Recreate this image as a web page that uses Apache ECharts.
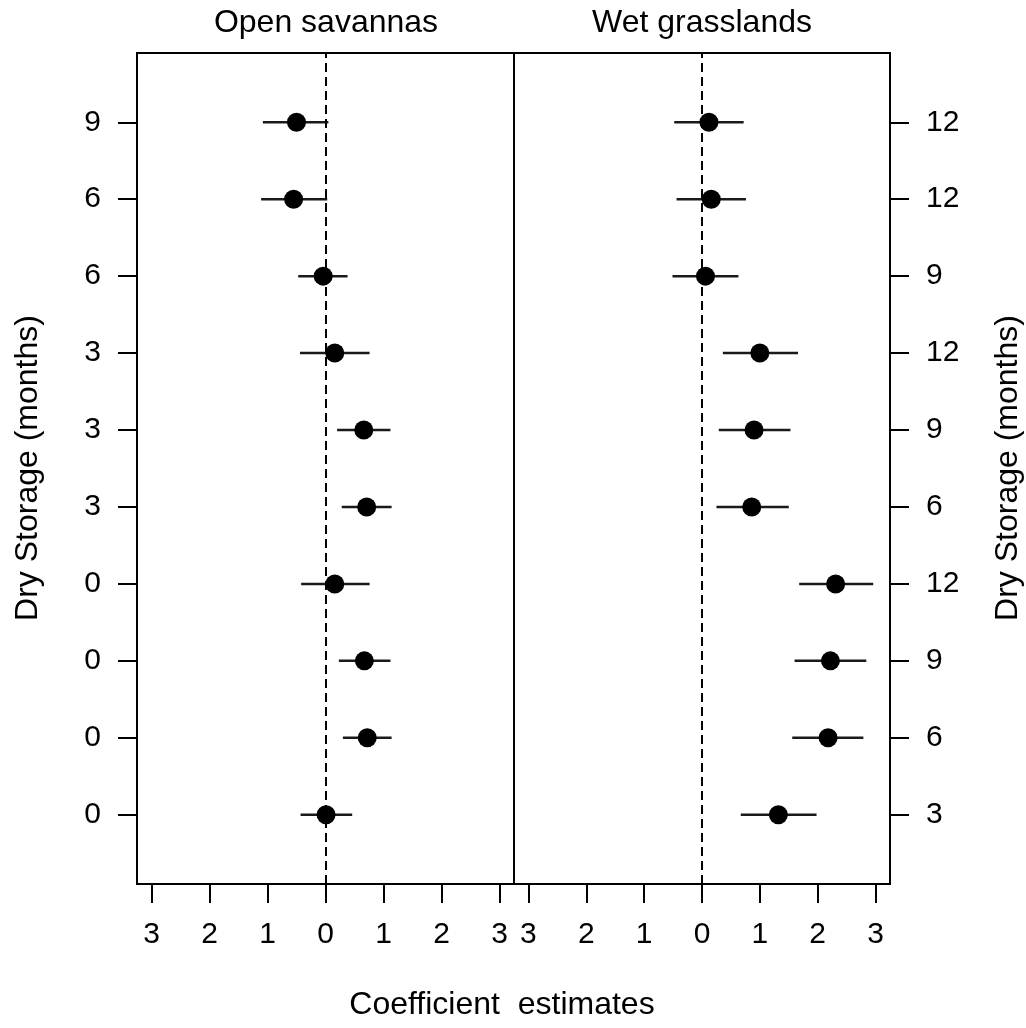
<!DOCTYPE html>
<html>
<head>
<meta charset="utf-8">
<script src="https://cdn.jsdelivr.net/npm/echarts@6/dist/echarts.min.js"></script>
<style>
  html, body { margin: 0; padding: 0; background: #fff; }
  #chart { width: 1026px; height: 1028px; }
</style>
</head>
<body>
<div id="chart"></div>
<script>
// Rows are listed top to bottom.
const panelTitles = ['Open savannas', 'Wet grasslands'];

const savannaLabels = ['9', '6', '6', '3', '3', '3', '0', '0', '0', '0'];
const savannaEst    = [-0.50, -0.55, -0.04, 0.16, 0.66, 0.71, 0.16, 0.67, 0.72, 0.01];
const savannaLow    = [-1.08, -1.11, -0.47, -0.44, 0.20, 0.28, -0.42, 0.23, 0.30, -0.43];
const savannaHigh   = [0.05, 0.03, 0.38, 0.76, 1.12, 1.14, 0.76, 1.12, 1.14, 0.46];

const grassLabels = ['12', '12', '9', '12', '9', '6', '12', '9', '6', '3'];
const grassEst    = [0.12, 0.16, 0.06, 1.00, 0.90, 0.86, 2.31, 2.22, 2.18, 1.32];
const grassLow    = [-0.48, -0.44, -0.51, 0.36, 0.29, 0.25, 1.68, 1.60, 1.56, 0.67];
const grassHigh   = [0.72, 0.76, 0.63, 1.66, 1.53, 1.50, 2.96, 2.84, 2.79, 1.98];

const xTicks = [-3, -2, -1, 0, 1, 2, 3];
const yAxisTitle = 'Dry Storage (months)';
const xAxisTitle = 'Coefficient  estimates';

const FONT = "'Liberation Sans', Arial, sans-serif";
const TICK_SIZE = 30;
const TITLE_FONT = '32px ' + FONT;
const n = savannaLabels.length;
const rows = savannaLabels.map((_, i) => n - i);   // 1 = bottom row

function labelFor(labels) {
  return v => {
    const i = n - Math.round(v);
    return labels[i] !== undefined ? labels[i] : '';
  };
}

function xAxisFor(gridIndex) {
  return {
    type: 'value', gridIndex, min: -3.25, max: 3.25,
    axisLine: { show: true, onZero: false, lineStyle: { color: '#000', width: 2 } },
    axisTick: { show: true, customValues: xTicks, length: 19, inside: false,
                lineStyle: { color: '#000', width: 2 } },
    axisLabel: { show: true, customValues: xTicks, margin: 36,
                 formatter: v => String(Math.abs(v)),
                 color: '#000', fontSize: TICK_SIZE, fontFamily: FONT },
    splitLine: { show: false }
  };
}

function yAxisFor(gridIndex, position, labels) {
  return {
    type: 'value', gridIndex, position, min: 0.1, max: 10.9,
    axisLine: { show: true, onZero: false, lineStyle: { color: '#000', width: 2 } },
    axisTick: { show: true, customValues: rows, length: 19, inside: false,
                lineStyle: { color: '#000', width: 2 } },
    axisLabel: { show: true, customValues: rows, margin: 36,
                 formatter: labelFor(labels),
                 color: '#000', fontSize: TICK_SIZE, fontFamily: FONT },
    splitLine: { show: false }
  };
}

function errorBars(idx, low, high) {
  return {
    type: 'custom', xAxisIndex: idx, yAxisIndex: idx,
    data: low.map((lo, i) => [lo, high[i], rows[i]]),
    encode: { x: [0, 1], y: 2 },
    silent: true,
    renderItem: (params, api) => {
      const a = api.coord([api.value(0), api.value(2)]);
      const b = api.coord([api.value(1), api.value(2)]);
      return {
        type: 'line',
        shape: { x1: a[0], y1: a[1], x2: b[0], y2: b[1] },
        style: { stroke: '#1a1a1a', lineWidth: 2.5 }
      };
    }
  };
}

function points(idx, est) {
  return {
    type: 'scatter', xAxisIndex: idx, yAxisIndex: idx,
    data: est.map((v, i) => [v, rows[i]]),
    symbol: 'circle', symbolSize: 19,
    itemStyle: { color: '#000', opacity: 1 },
    silent: true,
    z: 3,
    markLine: {
      silent: true, symbol: 'none',
      label: { show: false },
      lineStyle: { color: '#000', width: 2, type: [9, 5] },
      data: [{ xAxis: 0 }]
    }
  };
}

const chart = echarts.init(document.getElementById('chart'), null, { renderer: 'canvas' });

chart.setOption({
  backgroundColor: '#fff',
  animation: false,
  grid: [
    { left: 137, top: 53, width: 377, height: 831, show: true,
      borderColor: '#000', borderWidth: 2, backgroundColor: 'transparent' },
    { left: 514, top: 53, width: 376, height: 831, show: true,
      borderColor: '#000', borderWidth: 2, backgroundColor: 'transparent' }
  ],
  xAxis: [xAxisFor(0), xAxisFor(1)],
  yAxis: [yAxisFor(0, 'left', savannaLabels), yAxisFor(1, 'right', grassLabels)],
  series: [
    errorBars(0, savannaLow, savannaHigh),
    points(0, savannaEst),
    errorBars(1, grassLow, grassHigh),
    points(1, grassEst)
  ],
  graphic: [
    { type: 'text', x: 326, y: 23, style: { text: panelTitles[0], font: TITLE_FONT,
      fill: '#000', textAlign: 'center', textVerticalAlign: 'middle' } },
    { type: 'text', x: 702, y: 23, style: { text: panelTitles[1], font: TITLE_FONT,
      fill: '#000', textAlign: 'center', textVerticalAlign: 'middle' } },
    { type: 'text', x: 502, y: 1005, style: { text: xAxisTitle, font: TITLE_FONT,
      fill: '#000', textAlign: 'center', textVerticalAlign: 'middle' } },
    { type: 'text', x: 28, y: 468, rotation: Math.PI / 2, style: { text: yAxisTitle,
      font: TITLE_FONT, fill: '#000', textAlign: 'center', textVerticalAlign: 'middle' } },
    { type: 'text', x: 1008, y: 468, rotation: Math.PI / 2, style: { text: yAxisTitle,
      font: TITLE_FONT, fill: '#000', textAlign: 'center', textVerticalAlign: 'middle' } }
  ]
});
</script>
</body>
</html>
